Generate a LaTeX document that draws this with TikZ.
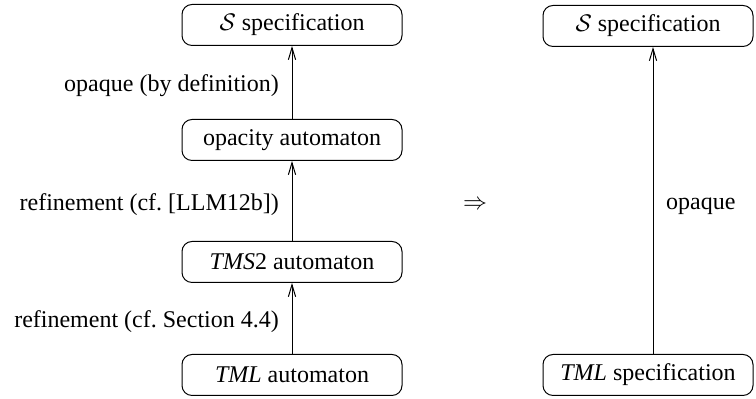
\documentclass[tikz,border=0pt]{standalone}
\usepackage{fontspec}
\setmainfont{Liberation Serif}
\usepackage{amsmath}
\usetikzlibrary{arrows.meta,positioning}
\frenchspacing

\begin{document}
\begin{tikzpicture}[x=0.5pt,y=0.5pt,
  state/.style={draw, rounded corners=5pt, line width=0.5pt, minimum height=20.5pt, align=center, font=\fontsize{12}{14}\selectfont},
  ref/.style={-{Straight Barb[length=6pt,width=3.6pt]}, line width=0.5pt},
  lbl/.style={font=\fontsize{12}{14}\selectfont}
]
  \useasboundingbox (0,0) rectangle (756,399);

  % left chain
  \node[state, minimum width=110pt] (spec) at (292,374) {$\mathcal{S}$ specification};
  \node[state, minimum width=110pt] (opac) at (292,259) {opacity automaton};
  \node[state, minimum width=110pt] (tms) at (292,137) {\textit{TMS}2 automaton};
  \node[state, minimum width=110pt] (tml) at (292,24) {\textit{TML} automaton};

  \draw[ref] (opac) -- node[lbl, pos=0.45, left=3pt] {opaque (by definition)} (spec);
  \draw[ref] (tms) -- node[lbl, pos=0.45, left=3pt] {refinement (cf. [LLM12b])} (opac);
  \draw[ref] (tml) -- node[lbl, pos=0.45, left=3pt] {refinement (cf. Section 4.4)} (tms);

  \node[lbl] (impl) at (475,194) {$\Rightarrow$};

  % right side
  \node[state, minimum width=105pt] (rspec) at (648,373) {$\mathcal{S}$ specification};
  \node[state, minimum width=105pt] (rtml) at (648,24) {\textit{TML} specification};
  \draw[ref] (rtml.north -| 653,0) -- node[lbl, pos=0.48, right=3pt] {opaque} (rspec.south -| 653,0);
\end{tikzpicture}
\end{document}
